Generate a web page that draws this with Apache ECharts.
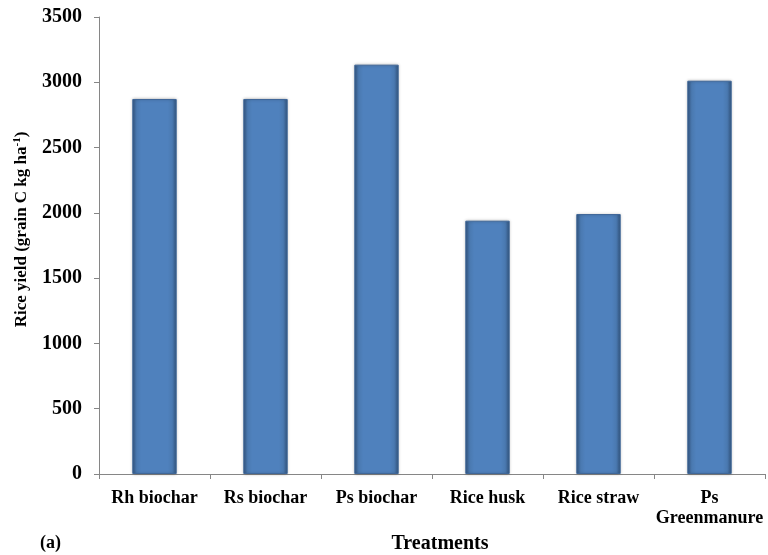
<!DOCTYPE html>
<html>
<head>
<meta charset="utf-8">
<script src="https://cdn.jsdelivr.net/npm/echarts@6/dist/echarts.min.js"></script>
<style>html,body{margin:0;padding:0;background:#fff;}#c{width:768px;height:555px;}</style>
</head>
<body>
<div id="c"></div>
<script>
var categories = ['Rh biochar', 'Rs biochar', 'Ps biochar', 'Rice husk', 'Rice straw', 'Ps\nGreenmanure'];
var riceYield = [2872, 2872, 3135, 1940, 1991, 3012];
var yTicks = {min: 0, max: 3500, interval: 500};

var font = 'Liberation Serif';
var chart = echarts.init(document.getElementById('c'));
var barColor = new echarts.graphic.LinearGradient(0, 0, 1, 0, [
  {offset: 0, color: '#33557f'},
  {offset: 0.1, color: '#4a79b0'},
  {offset: 0.2, color: '#4f81bd'},
  {offset: 0.8, color: '#4f81bd'},
  {offset: 0.9, color: '#4a79b0'},
  {offset: 1, color: '#33557f'}
]);
chart.setOption({
  animation: false,
  backgroundColor: '#fff',
  grid: {left: 99, right: 3, top: 17, bottom: 81, containLabel: false, outerBoundsMode: 'none'},
  xAxis: {
    type: 'category',
    data: categories,
    name: 'Treatments',
    nameLocation: 'middle',
    nameGap: 60,
    nameTextStyle: {fontFamily: font, fontWeight: 'bold', fontSize: 20, color: '#000', padding: [0, 0, 0, 16]},
    axisLine: {lineStyle: {color: '#868686', width: 1}},
    axisTick: {show: true, alignWithLabel: false, length: 5, lineStyle: {color: '#868686'}},
    axisLabel: {fontFamily: font, fontWeight: 'bold', fontSize: 18, color: '#000', margin: 14, lineHeight: 20, interval: 0}
  },
  yAxis: {
    type: 'value',
    min: yTicks.min, max: yTicks.max, interval: yTicks.interval,
    name: 'Rice yield (grain C kg ha{sup|-1})',
    nameLocation: 'middle',
    nameGap: 68,
    nameTextStyle: {fontFamily: font, fontWeight: 'bold', fontSize: 17, color: '#000', padding: [0, 0, 0, 32],
      rich: {sup: {fontFamily: font, fontWeight: 'bold', fontSize: 11, color: '#000', verticalAlign: 'top', padding: [0, 0, 8, 0]}}},
    axisLine: {show: true, lineStyle: {color: '#868686', width: 1}},
    axisTick: {show: true, length: 5, lineStyle: {color: '#868686'}},
    splitLine: {show: false},
    axisLabel: {fontFamily: font, fontWeight: 'bold', fontSize: 20, color: '#000', margin: 17,
      formatter: function (v) { return String(v); }}
  },
  series: [{
    type: 'bar',
    data: riceYield,
    barWidth: '40%',
    itemStyle: {color: barColor, borderColor: '#3f6799', borderWidth: 1,
      shadowColor: 'rgba(0,0,0,0.25)', shadowBlur: 3}
  }],
  graphic: [{
    type: 'text', left: 40, top: 534,
    style: {text: '(a)', fontFamily: font, fontWeight: 'bold', fontSize: 18, fill: '#000'}
  }]
});
</script>
</body>
</html>
